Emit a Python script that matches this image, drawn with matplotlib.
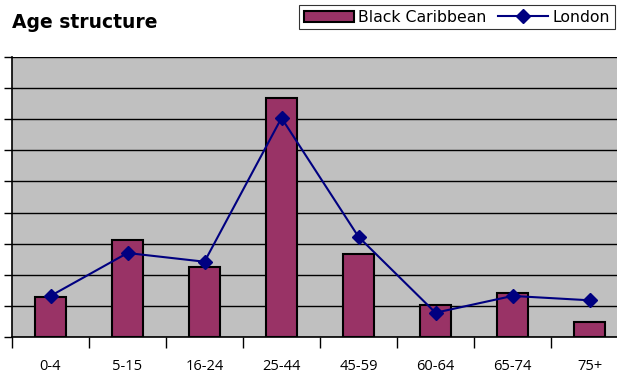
import matplotlib.pyplot as plt
import matplotlib.patches as mpatches
import matplotlib.lines as mlines

CATEGORIES = ["0-4", "5-15", "16-24", "25-44", "45-59", "60-64", "65-74", "75+"]
BLACK_CARIBBEAN = [6.4, 15.6, 11.3, 38.4, 13.3, 5.1, 7.1, 2.4]
LONDON = [6.6, 13.5, 12.1, 35.2, 16.1, 3.9, 6.6, 5.9]

BAR_COLOR = "#993366"
LINE_COLOR = "#000080"

plt.rcParams["font.family"] = ["DejaVu Sans"]

fig = plt.figure(figsize=(6.17, 3.70), dpi=100)
ax = fig.add_axes([12 / 617, 1 - 337 / 370, 616 / 617, 280 / 370])
ax.set_facecolor("#c0c0c0")

x = list(range(len(CATEGORIES)))
ax.bar(x, BLACK_CARIBBEAN, width=0.4, color=BAR_COLOR, edgecolor="black", linewidth=1.5, zorder=2)
ax.plot(x, LONDON, color=LINE_COLOR, marker="D", markersize=7, linewidth=1.5, zorder=3)

ax.set_xlim(-0.5, len(CATEGORIES) - 0.5)
ax.set_ylim(0, 45)
ax.set_yticks(range(0, 46, 5))
ax.set_yticklabels([])
ax.yaxis.grid(True, color="black", linewidth=1, zorder=0)
ax.set_axisbelow(True)
ax.tick_params(axis="y", direction="out", length=6, width=1)

ax.set_xticks([i - 0.5 for i in range(len(CATEGORIES) + 1)])
ax.set_xticklabels([])
ax.set_xticks(x, minor=True)
ax.set_xticklabels(CATEGORIES, minor=True, fontsize=10.5, family="Open Sans")
ax.tick_params(axis="x", which="major", direction="out", length=8, width=1)
ax.tick_params(axis="x", which="minor", length=0, pad=16)

for side in ["top", "right"]:
    ax.spines[side].set_visible(False)
ax.spines["left"].set_linewidth(1.2)
ax.spines["bottom"].set_linewidth(1.2)

fig.text(12 / 617, 1 - 22 / 370, "Age structure", fontsize=13.5, fontweight="bold", va="center")

handles = [
    mpatches.Patch(facecolor=BAR_COLOR, edgecolor="black", linewidth=1.5, label="Black Caribbean"),
    mlines.Line2D([], [], color=LINE_COLOR, marker="D", markersize=7, linewidth=1.5, label="London"),
]
leg = fig.legend(handles=handles, loc="upper right", bbox_to_anchor=(615 / 617, 1 - 5 / 370),
                 ncol=2, fontsize=11.3, frameon=True, fancybox=False, edgecolor="black",
                 handlelength=3.2, handletextpad=0.3, columnspacing=0.7, borderpad=0.3,
                 borderaxespad=0)
leg.get_frame().set_linewidth(0.8)

fig.savefig("out.png", dpi=100)
